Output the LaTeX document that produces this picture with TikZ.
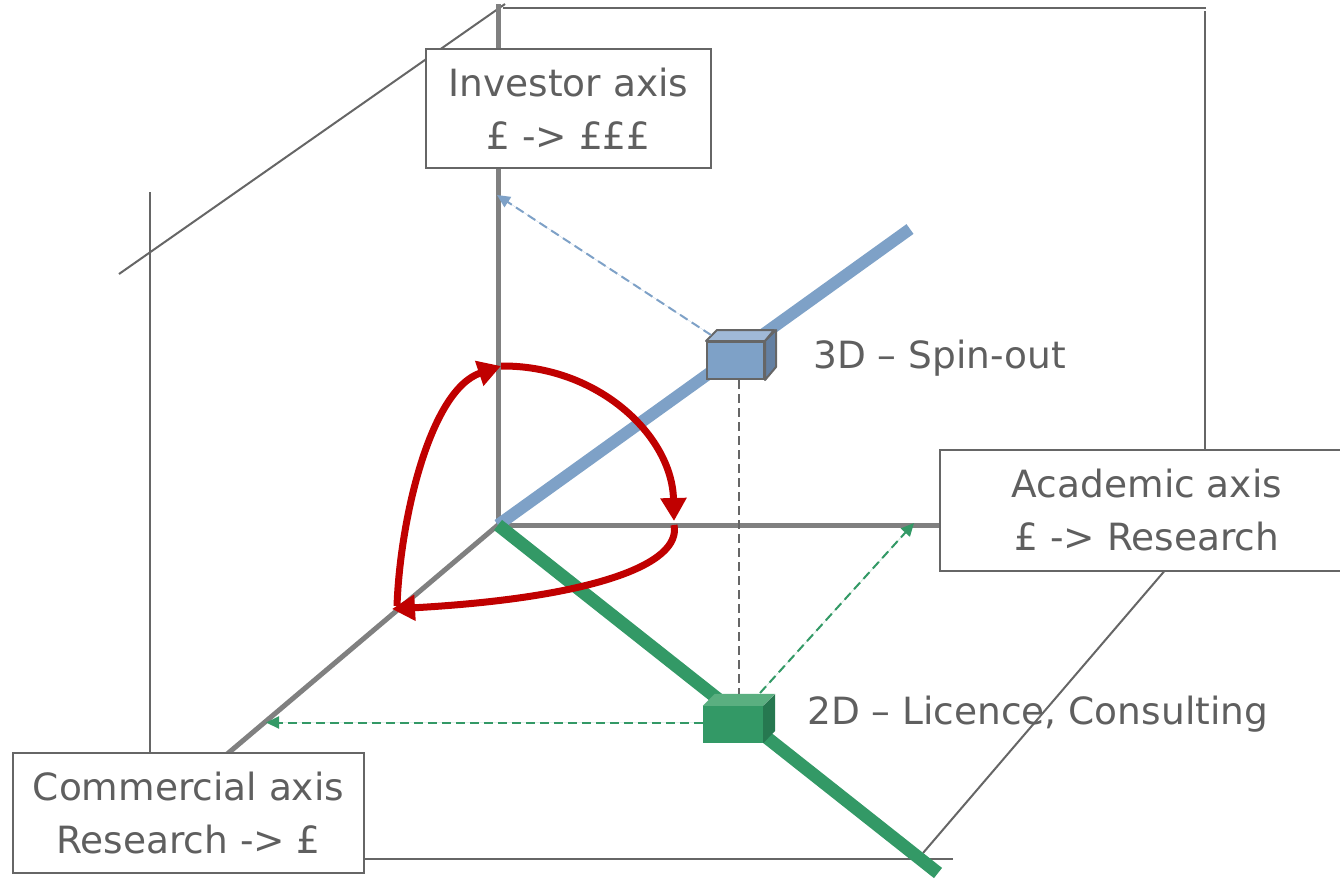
\documentclass[tikz,border=0pt]{standalone}
\usepackage{fontspec}
\setmainfont{DejaVu Sans}
\usetikzlibrary{arrows.meta}
\definecolor{axisgray}{RGB}{128,128,128}
\definecolor{framegray}{RGB}{102,102,102}
\definecolor{txtgray}{RGB}{95,95,95}
\definecolor{bluel}{RGB}{126,161,199}
\definecolor{bluetop}{RGB}{160,185,215}
\definecolor{blueside}{RGB}{100,128,162}
\definecolor{greenl}{RGB}{51,153,102}
\definecolor{greentop}{RGB}{90,175,128}
\definecolor{greenside}{RGB}{38,120,80}
\definecolor{redarc}{RGB}{192,0,0}
\begin{document}
\begin{tikzpicture}[x=1pt,y=-1pt,
  frame/.style={draw=framegray,line width=2.7pt},
  framethin/.style={draw=framegray,line width=2pt},
  axis/.style={draw=axisgray,line width=5pt},
  label/.style={text=txtgray,font=\fontsize{37.5}{53}\selectfont,inner sep=0pt},
  axisbox/.style={draw=framegray,line width=2.5pt,fill=white,text=txtgray,
     font=\fontsize{37.5}{53}\selectfont,align=center,inner sep=0pt},
  redarrow/.style={draw=redarc,line width=7pt,-{Triangle[length=23pt,width=25pt]}},
  dasharrow/.style={line width=2pt,dash pattern=on 9pt off 5pt,-{Triangle[length=13pt,width=12pt]}},
  vdash/.style={draw=framegray,line width=2pt,dash pattern=on 9pt off 5pt}]
\useasboundingbox (0,0) rectangle (1340,878);
% back frame
\draw[frame] (503,8) -- (1206,8);
\draw[frame] (1205,11) -- (1205,452);
\draw[framethin] (119,274) -- (505,4);
\draw[frame] (150,192) -- (150,755);
\draw[frame] (362,859) -- (953,859);
\draw[framethin] (923,853) -- (1167,568);
% main axes
\coordinate (O) at (498,525);
\draw[axis] (498,4) -- (O);
\draw[axis] (O) -- (942,525);
\draw[axis] (O) -- (226,755);
% coloured axes
\draw[draw=bluel,line width=12pt] (O) -- (910,229);
\draw[draw=greenl,line width=13pt] (O) -- (938,873);
% red arcs
\coordinate (rTop) at (501,366);
\coordinate (rRight) at (674,521);
\coordinate (rLeft) at (392,609);
\draw[redarrow] (rTop) .. controls (597,365) and (672,435) .. (rRight);
\draw[redarrow] ([yshift=-4pt]rRight) .. controls (682,565) and (590,598) .. (rLeft);
\draw[redarrow] ([xshift=5pt,yshift=3pt]rLeft) .. controls (400,520) and (430,390) .. (rTop);
% cubes
\node[minimum width=57pt,minimum height=37pt,inner sep=0pt,fill=bluel,draw=framegray,line width=2pt] (spin) at (735.5,360.5) {};
\draw[fill=bluetop,draw=framegray,line width=2pt,line join=round] (spin.north west) -- ++(11,-11) -- ++(57,0) -- (spin.north east) -- cycle;
\draw[fill=blueside,draw=framegray,line width=2pt,line join=round] (spin.north east) -- ++(11,-11) -- ++(0,37) -- (spin.south east) -- cycle;
\node[minimum width=60pt,minimum height=37pt,inner sep=0pt,fill=greenl] (lic) at (733,724.5) {};
\fill[greentop] (lic.north west) -- ++(12,-12) -- ++(60,0) -- (lic.north east) -- cycle;
\fill[greenside] (lic.north east) -- ++(12,-12) -- ++(0,37) -- (lic.south east) -- cycle;
% projection lines
\coordinate (lictop) at (739,694);
\coordinate (invtip) at (497,195);
\coordinate (acadtip) at (914,523);
\coordinate (commtip) at (266,722.5);
\draw[vdash] (spin.south -| lictop) -- (lictop);
\draw[dasharrow,draw=bluel,fill=bluel] ([xshift=5pt,yshift=6pt]spin.north west) -- (invtip);
\draw[dasharrow,draw=greenl,fill=greenl] (760,693) -- (acadtip);
\draw[dasharrow,draw=greenl,fill=greenl] ([yshift=2pt]lic.west) -- (commtip);
% labels
\node[label,anchor=west] (spinlab) at (813,358) {3D – Spin-out};
\node[label,anchor=west] (liclab) at (807,714) {2D – Licence, Consulting};
% axis boxes
\node[axisbox,minimum width=285pt,minimum height=119pt] (inv) at (568.5,108.5) {Investor axis\\£ -> £££};
\node[axisbox,minimum width=414pt,minimum height=121pt] (acad) at (1147,510.5) {Academic axis\\£ -> Research};
\node[axisbox,minimum width=351pt,minimum height=120pt] (comm) at (188.5,813) {Commercial axis\\Research -> £};
\end{tikzpicture}
\end{document}
